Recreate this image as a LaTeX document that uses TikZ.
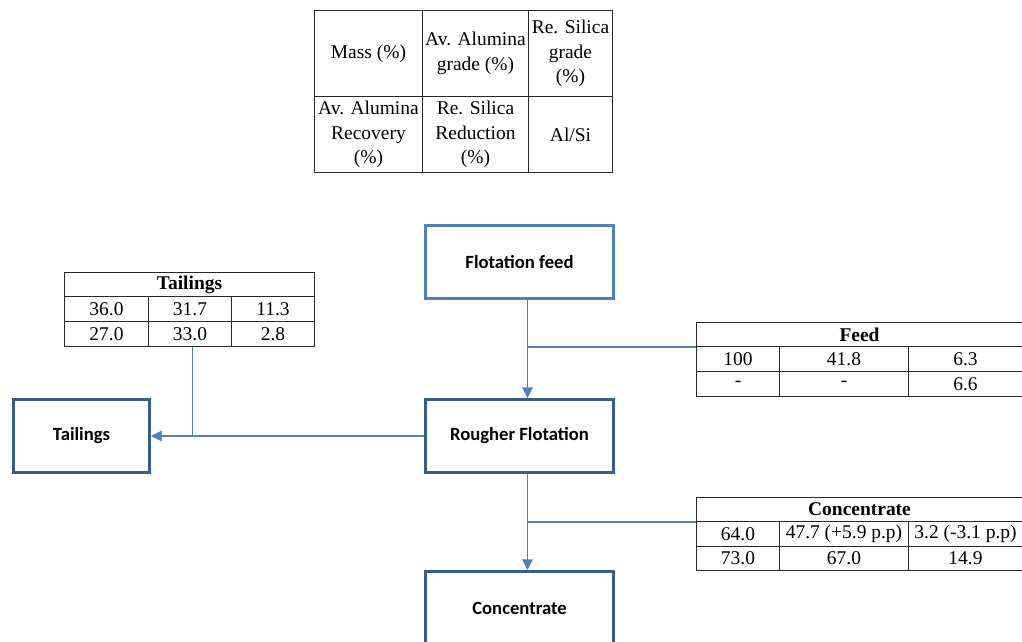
\documentclass[tikz,border=0pt]{standalone}
\usepackage{fontspec}
\setmainfont{Liberation Serif}
\newfontfamily\boxfont{Carlito}
\usepackage{tikz}
\usetikzlibrary{arrows.meta, positioning}
\usepackage{xcolor}
\definecolor{feedblue}{RGB}{79,129,189}
\definecolor{darkblue}{RGB}{56,93,138}
\definecolor{flowblue}{RGB}{79,129,189}
\definecolor{gridgray}{RGB}{40,40,40}

\begin{document}
\begin{tikzpicture}[
    x=0.75pt, y=-0.75pt,
    cell/.style={rectangle, draw=gridgray, line width=0.75pt, anchor=north west, inner sep=0pt, align=center, font=\fontsize{14.6}{18.5}\selectfont},
    unit/.style={rectangle, draw=darkblue, line width=2.25pt, minimum width=141pt, minimum height=54.75pt, anchor=north west, font=\boxfont\bfseries\fontsize{14}{17}\selectfont},
    line/.style={flowblue, line width=0.9pt},
    arr/.style={-{Triangle[length=8pt,width=8pt]}, flowblue, line width=0.9pt}
]
    \useasboundingbox (0,0) rectangle (1022,642);
    \clip (0,0) rectangle (1022,642);

    % legend
    \node (lg1) [cell, minimum width=81pt, minimum height=64.5pt] at (314,10) {Mass (\%)};
    \node (lg2) [cell, minimum width=79.5pt, minimum height=64.5pt] at (422,10) {Av. Alumina\\grade (\%)};
    \node (lg3) [cell, minimum width=63pt, minimum height=64.5pt] at (528,10) {Re. Silica\\grade\\(\%)};
    \node (lg4) [cell, minimum width=81pt, minimum height=57pt] at (314,96) {Av. Alumina\\Recovery\\(\%)};
    \node (lg5) [cell, minimum width=79.5pt, minimum height=57pt] at (422,96) {Re. Silica\\Reduction\\(\%)};
    \node (lg6) [cell, minimum width=63pt, minimum height=57pt] at (528,96) {Al/Si};

    % process boxes
    \node (ffeed) [unit, draw=feedblue] at (424,224) {Flotation feed};
    \node (rough) [unit] at (424,398) {Rougher Flotation};
    \node (conc) [unit] at (424,570) {Concentrate};
    \node (tail) [unit, minimum width=102pt] at (12,398) {Tailings};

    % tailings table
    \node (thead) [cell, minimum width=187.5pt, minimum height=18pt] at (64,272) {\textbf{Tailings}};
    \node (ta1) [cell, minimum width=63pt, minimum height=18.75pt] at (64,296) {36.0};
    \node (ta2) [cell, minimum width=62.25pt, minimum height=18.75pt] at (148,296) {31.7};
    \node (ta3) [cell, minimum width=62.25pt, minimum height=18.75pt] at (231,296) {11.3};
    \node (tb1) [cell, minimum width=63pt, minimum height=18.75pt] at (64,321) {27.0};
    \node (tb2) [cell, minimum width=62.25pt, minimum height=18.75pt] at (148,321) {33.0};
    \node (tb3) [cell, minimum width=62.25pt, minimum height=18.75pt] at (231,321) {2.8};

    % feed table
    \node (fhead) [cell, minimum width=244.5pt, minimum height=18pt] at (696,322) {\textbf{Feed}};
    \node (fa1) [cell, minimum width=62.25pt, minimum height=18.75pt] at (696,346) {100};
    \node (fa2) [cell, minimum width=96.75pt, minimum height=18.75pt] at (779,346) {41.8};
    \node (fa3) [cell, minimum width=85.5pt, minimum height=18.75pt] at (908,346) {6.3};
    \node (fb1) [cell, minimum width=62.25pt, minimum height=18.75pt] at (696,371) {-};
    \node (fb2) [cell, minimum width=96.75pt, minimum height=18.75pt] at (779,371) {-};
    \node (fb3) [cell, minimum width=85.5pt, minimum height=18.75pt] at (908,371) {6.6};

    % concentrate table
    \node (chead) [cell, minimum width=244.5pt, minimum height=18pt] at (696,497) {\textbf{Concentrate}};
    \node (ca1) [cell, minimum width=62.25pt, minimum height=18.75pt] at (696,521) {64.0};
    \node (ca2) [cell, minimum width=96.75pt, minimum height=18.75pt] at (779,521) {47.7 (+5.9 p.p)};
    \node (ca3) [cell, minimum width=85.5pt, minimum height=18.75pt] at (908,521) {3.2 (-3.1 p.p)};
    \node (cb1) [cell, minimum width=62.25pt, minimum height=18pt] at (696,546) {73.0};
    \node (cb2) [cell, minimum width=96.75pt, minimum height=18pt] at (779,546) {67.0};
    \node (cb3) [cell, minimum width=85.5pt, minimum height=18pt] at (908,546) {14.9};

    % flows
    \draw[arr] ([xshift=6pt]ffeed.south) -- ([xshift=6pt]rough.north);
    \draw[line] ([xshift=6pt]ffeed.south |- fhead.south west) -- (fhead.south west);
    \draw[arr] ([xshift=6pt]rough.south) -- ([xshift=6pt]conc.north);
    \draw[line] ([xshift=6pt]rough.south |- chead.south west) -- (chead.south west);
    \draw[arr] (rough.west) -- (tail.east);
    \draw[line] ([xshift=2pt]tb2.south) -- ([xshift=2pt]tb2.south |- tail.east);
\end{tikzpicture}
\end{document}
